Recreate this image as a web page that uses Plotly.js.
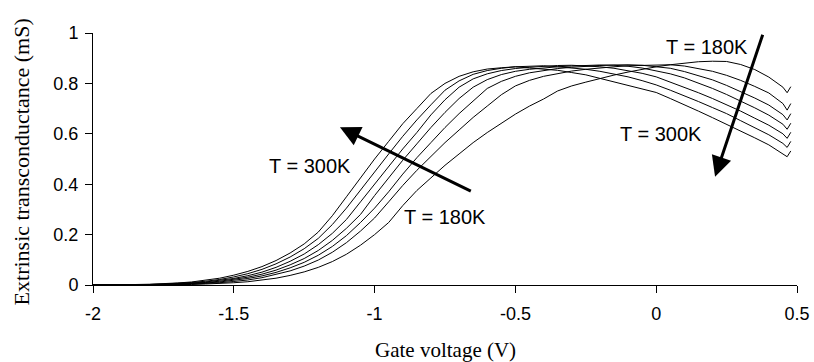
<!DOCTYPE html>
<html>
<head>
<meta charset="utf-8">
<script src="https://cdn.plot.ly/plotly-3.0.1.min.js"></script>
<style>html,body{margin:0;padding:0;background:#fff;}#chart{width:814px;height:362px;}</style>
</head>
<body>
<div id="chart"></div>
<script>
// Gate voltage (V)
const gateVoltage = [-2.00,-1.95,-1.90,-1.85,-1.80,-1.75,-1.70,-1.65,-1.60,-1.55,-1.50,-1.45,-1.40,-1.35,-1.30,-1.25,-1.20,-1.15,-1.10,-1.05,-1.00,-0.95,-0.90,-0.85,-0.80,-0.75,-0.70,-0.65,-0.60,-0.55,-0.50,-0.45,-0.40,-0.35,-0.30,-0.25,-0.20,-0.15,-0.10,-0.05,0.00,0.05,0.10,0.15,0.20,0.25,0.30,0.35,0.40,0.45,0.465,0.478];

// Extrinsic transconductance (mS) per temperature
const gm180K = [0,0,0,0,0,0.001,0.001,0.002,0.004,0.006,0.009,0.013,0.019,0.027,0.038,0.052,0.070,0.093,0.122,0.158,0.200,0.248,0.315,0.375,0.425,0.475,0.520,0.565,0.605,0.643,0.678,0.710,0.738,0.770,0.790,0.805,0.820,0.833,0.845,0.856,0.866,0.874,0.881,0.886,0.888,0.887,0.875,0.855,0.825,0.785,0.763,0.787];
const gm200K = [0,0,0,0,0.001,0.001,0.002,0.004,0.006,0.009,0.014,0.020,0.029,0.041,0.056,0.075,0.099,0.130,0.168,0.214,0.266,0.330,0.395,0.455,0.510,0.565,0.615,0.665,0.710,0.755,0.790,0.812,0.828,0.840,0.849,0.856,0.862,0.866,0.870,0.872,0.874,0.874,0.869,0.860,0.848,0.832,0.812,0.788,0.762,0.720,0.694,0.720];
const gm220K = [0,0,0,0,0.001,0.002,0.003,0.005,0.008,0.012,0.018,0.026,0.036,0.050,0.068,0.090,0.118,0.153,0.196,0.248,0.305,0.370,0.440,0.505,0.565,0.625,0.680,0.730,0.780,0.808,0.828,0.842,0.852,0.859,0.864,0.868,0.871,0.873,0.874,0.872,0.867,0.860,0.847,0.832,0.814,0.792,0.768,0.742,0.714,0.676,0.655,0.680];
const gm240K = [0,0,0,0.001,0.001,0.002,0.004,0.006,0.010,0.015,0.022,0.031,0.043,0.059,0.080,0.105,0.137,0.177,0.225,0.280,0.355,0.425,0.495,0.560,0.625,0.685,0.740,0.785,0.815,0.835,0.848,0.856,0.862,0.866,0.869,0.872,0.873,0.872,0.868,0.861,0.851,0.838,0.822,0.802,0.780,0.756,0.730,0.703,0.674,0.638,0.618,0.642];
const gm260K = [0,0,0,0.001,0.002,0.003,0.005,0.008,0.012,0.018,0.026,0.037,0.051,0.070,0.094,0.123,0.160,0.205,0.260,0.330,0.400,0.470,0.540,0.605,0.675,0.735,0.785,0.818,0.838,0.851,0.859,0.864,0.868,0.871,0.872,0.870,0.866,0.860,0.851,0.840,0.826,0.806,0.785,0.763,0.740,0.716,0.690,0.662,0.634,0.600,0.582,0.606];
const gm280K = [0,0,0.001,0.001,0.002,0.004,0.006,0.010,0.015,0.022,0.032,0.045,0.062,0.084,0.111,0.144,0.185,0.240,0.305,0.378,0.450,0.520,0.590,0.655,0.715,0.773,0.810,0.836,0.851,0.860,0.866,0.869,0.870,0.866,0.862,0.856,0.848,0.838,0.826,0.811,0.794,0.773,0.752,0.728,0.704,0.680,0.652,0.624,0.596,0.562,0.546,0.570];
const gm300K = [0,0,0.001,0.002,0.003,0.005,0.008,0.012,0.018,0.027,0.039,0.054,0.073,0.097,0.127,0.163,0.210,0.275,0.350,0.425,0.500,0.570,0.640,0.700,0.760,0.800,0.828,0.846,0.857,0.862,0.866,0.861,0.857,0.852,0.843,0.834,0.820,0.806,0.790,0.778,0.764,0.740,0.716,0.690,0.664,0.638,0.610,0.584,0.556,0.522,0.509,0.532];

const seriesList = [gm180K, gm200K, gm220K, gm240K, gm260K, gm280K, gm300K];
const seriesNames = ['T = 180K','T = 200K','T = 220K','T = 240K','T = 260K','T = 280K','T = 300K'];

const xTickVals = [-2, -1.5, -1, -0.5, 0, 0.5];
const xTickText = ['-2', '-1.5', '-1', '-0.5', '0', '0.5'];
const yTickVals = [0, 0.2, 0.4, 0.6, 0.8, 1];
const yTickText = ['0', '0.2', '0.4', '0.6', '0.8', '1'];

const xTitle = 'Gate voltage (V)';
const yTitle = 'Extrinsic transconductance (mS)';

const traces = seriesList.map((ys, i) => ({
  x: gateVoltage, y: ys, type: 'scatter', mode: 'lines', name: seriesNames[i],
  line: {color: '#000', width: 1}, showlegend: false, hoverinfo: 'skip'
}));

const sans = 'Arial, "Liberation Sans", sans-serif';
const serif = '"Times New Roman", "Liberation Serif", serif';

const axisCommon = {
  showgrid: false, zeroline: false, showline: true, linecolor: '#000', linewidth: 1,
  ticks: 'outside', ticklen: 7, tickcolor: '#000', tickwidth: 1,
  tickfont: {family: sans, size: 18, color: '#000'}
};

const layout = {
  width: 814, height: 362,
  margin: {l: 93, r: 17, t: 33, b: 77},
  paper_bgcolor: '#fff', plot_bgcolor: '#fff',
  xaxis: Object.assign({range: [-2, 0.5], tickvals: xTickVals, ticktext: xTickText, ticklabelstandoff: 5}, axisCommon),
  yaxis: Object.assign({range: [0, 1], tickvals: yTickVals, ticktext: yTickText, ticklabelstandoff: 3}, axisCommon),
  annotations: [
    {xref: 'paper', yref: 'paper', x: 0.5, y: -0.258, xanchor: 'center', yanchor: 'middle',
     text: xTitle, showarrow: false, font: {family: serif, size: 21, color: '#000'}},
    {xref: 'paper', yref: 'paper', x: -0.101, y: 0.49, xanchor: 'center', yanchor: 'middle', textangle: -90,
     text: yTitle, showarrow: false, font: {family: serif, size: 22, color: '#000'}},
    {x: -1.123, y: 0.626, ax: -0.653, ay: 0.370, xref: 'x', yref: 'y', axref: 'x', ayref: 'y',
     showarrow: true, arrowhead: 2, arrowsize: 1.35, arrowwidth: 3, arrowcolor: '#000', text: ''},
    {x: 0.209, y: 0.430, ax: 0.380, ay: 0.999, xref: 'x', yref: 'y', axref: 'x', ayref: 'y',
     showarrow: true, arrowhead: 2, arrowsize: 1.35, arrowwidth: 3, arrowcolor: '#000', text: ''},
    {x: -1.229, y: 0.472, xref: 'x', yref: 'y', text: 'T = 300K', showarrow: false,
     font: {family: sans, size: 20, color: '#000'}},
    {x: -0.750, y: 0.270, xref: 'x', yref: 'y', text: 'T = 180K', showarrow: false,
     font: {family: sans, size: 20, color: '#000'}},
    {x: 0.180, y: 0.944, xref: 'x', yref: 'y', text: 'T = 180K', showarrow: false,
     font: {family: sans, size: 20, color: '#000'}},
    {x: 0.017, y: 0.599, xref: 'x', yref: 'y', text: 'T = 300K', showarrow: false,
     font: {family: sans, size: 20, color: '#000'}}
  ]
};

Plotly.newPlot('chart', traces, layout, {displayModeBar: false, staticPlot: true});
</script>
</body>
</html>
